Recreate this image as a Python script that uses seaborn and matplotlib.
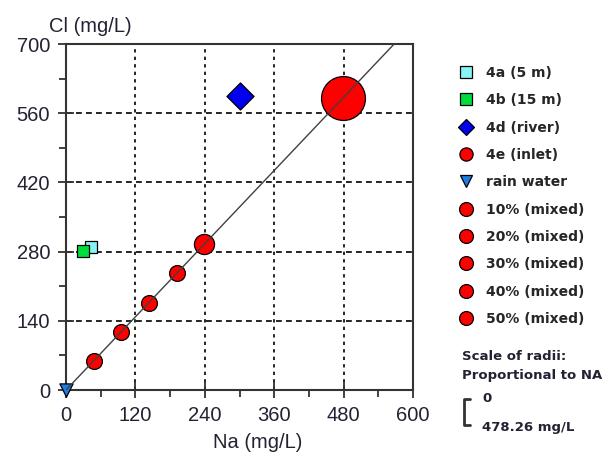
import matplotlib
matplotlib.use("Agg")
import matplotlib.pyplot as plt
from matplotlib.lines import Line2D
from matplotlib.ticker import MultipleLocator
import pandas as pd
import seaborn as sns

# sample data
samples = ["4a (5 m)", "4b (15 m)", "4d (river)", "4e (inlet)", "rain water",
           "10% (mixed)", "20% (mixed)", "30% (mixed)", "40% (mixed)", "50% (mixed)"]
na = [44, 30, 301, 478.26, 0, 47.8, 95.7, 143.5, 191.3, 239.1]
cl = [290, 281, 595, 590, 0, 59, 118, 177, 236, 295]

x_ticks = [0, 120, 240, 360, 480, 600]
y_ticks = [0, 140, 280, 420, 560, 700]

# marker styles per sample
markers = ["s", "s", "D", "o", "v", "o", "o", "o", "o", "o"]
colors = ["#88f4f4", "#00dd3a", "#0000ee", "#ff0000", "#1f7fe0",
          "#ff0000", "#ff0000", "#ff0000", "#ff0000", "#ff0000"]
sizes = [78, 82, 190, 1000, 90, 130, 130, 130, 130, 210]

df = pd.DataFrame({"sample": samples, "Na": na, "Cl": cl})

sns.set_style("ticks")
plt.rcParams["font.family"] = ["Liberation Sans", "DejaVu Sans"]

W, H = 614, 454
fig = plt.figure(figsize=(W / 100, H / 100), dpi=100)
ax = fig.add_axes([66 / W, 64 / H, 347 / W, 346 / H])

for i, s in enumerate(samples):
    sns.scatterplot(data=df[df["sample"] == s], x="Na", y="Cl", ax=ax,
                    marker=markers[i], s=sizes[i], color=colors[i],
                    edgecolor="black", linewidth=0.9, zorder=3,
                    legend=False, clip_on=False)

# mixing line rain water -> inlet
ax.axline((na[4], cl[4]), (na[3], cl[3]), color="#404040", lw=1, zorder=4)

ax.set_xlim(0, 600)
ax.set_ylim(0, 700)
ax.set_xticks(x_ticks)
ax.set_yticks(y_ticks)
ax.xaxis.set_minor_locator(MultipleLocator(60))
ax.yaxis.set_minor_locator(MultipleLocator(70))
ax.tick_params(which="major", direction="inout", length=11, width=1.3,
               color="#333333", labelsize=14.5, labelcolor="#222233", pad=6)
ax.tick_params(which="minor", direction="out", length=5, width=1.3, color="#333333")
ax.set_xlabel("")
ax.set_ylabel("")

ax.xaxis.grid(True, color="black", lw=1.2, linestyle=(0, (2, 2.5)))
ax.yaxis.grid(True, color="black", lw=1.2, linestyle=(0, (3.5, 2.5)))
ax.set_axisbelow(True)
for sp in ax.spines.values():
    sp.set_color("#333333")
    sp.set_linewidth(1.5)

fig.text(49 / W, 1 - 26 / H, "Cl (mg/L)", fontsize=14.5, color="#222233",
         ha="left", va="center")
fig.text(258 / W, 1 - 443 / H, "Na (mg/L)", fontsize=14.5, color="#222233",
         ha="center", va="center")

# legend
handles = [Line2D([], [], ls="", marker=m, markersize=ms, markerfacecolor=c,
                  markeredgecolor="black", markeredgewidth=0.9)
           for m, c, ms in zip(markers, colors,
                               [9, 9, 8.5, 9.5, 8.5, 10, 10, 10, 10, 10])]
fig.legend(handles, samples, loc="upper left", bbox_to_anchor=(458 / W, 1 - 66 / H),
           frameon=False, borderpad=0, borderaxespad=0, handlelength=1.2,
           handletextpad=0.8, labelspacing=0.96,
           prop={"family": "DejaVu Sans", "weight": "bold", "size": 10})

bold = {"family": "DejaVu Sans", "weight": "bold", "size": 9.5, "color": "#222233"}
fig.text(462 / W, 1 - 357 / H, "Scale of radii:", ha="left", va="center", **bold)
fig.text(462 / W, 1 - 375 / H, "Proportional to NA", ha="left", va="center", **bold)
fig.text(482 / W, 1 - 398 / H, "0", ha="left", va="center", **bold)
fig.text(482 / W, 1 - 427 / H, "478.26 mg/L", ha="left", va="center", **bold)
bx = [470, 464, 464, 470]
by = [399, 399, 425, 425]
fig.add_artist(Line2D([x / W for x in bx], [1 - y / H for y in by],
                      transform=fig.transFigure, color="#333333", lw=2))

fig.savefig("out.png", dpi=100)
